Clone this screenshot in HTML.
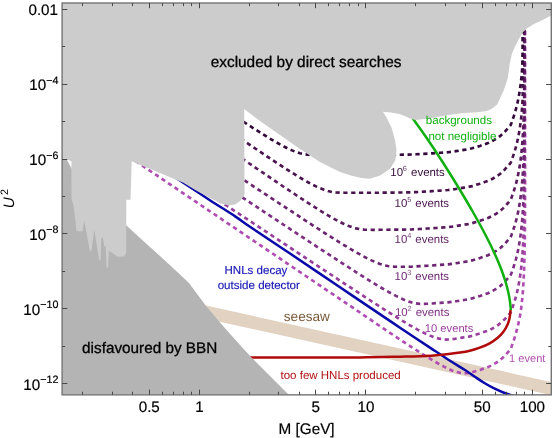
<!DOCTYPE html>
<html><head><meta charset="utf-8"><title>HNL sensitivity</title>
<style>html,body{margin:0;padding:0;background:#fff}svg{will-change:transform;-webkit-font-smoothing:antialiased}svg text{text-rendering:geometricPrecision}body{width:555px;height:438px;overflow:hidden}</style></head>
<body>
<svg width="555" height="438" viewBox="0 0 555 438" style="display:block;font-family:'Liberation Sans',sans-serif">
<rect width="555" height="438" fill="#fff"/>
<defs><clipPath id="cp"><rect x="62.1" y="3.0" width="489.19999999999993" height="391.85"/></clipPath></defs>
<g clip-path="url(#cp)">
<path d="M190.00,301.96 L560.00,383.91 L560.00,397.11 L190.00,315.16 Z" fill="#e2d2c2"/>
<path d="M525.14,-0.30 L525.12,158.07 L525.10,181.40 L525.07,195.05 L525.05,204.73 L525.02,212.24 L524.99,218.38 L524.96,223.57 L524.93,228.06 L524.90,232.03 L524.86,235.57 L524.82,238.78 L524.79,241.71 L524.75,244.40 L524.71,246.90 L524.67,249.22 L524.63,251.39 L524.59,253.43 L524.54,255.36 L524.50,257.18 L524.45,258.90 L523.99,272.55 L523.50,282.23 L523.00,289.74 L522.50,295.88 L522.00,301.07 L521.50,305.56 L521.00,309.53 L520.46,313.07 L519.91,316.28 L519.34,319.21 L518.78,321.90 L518.22,324.40 L517.66,326.72 L517.11,328.89 L516.57,330.93 L516.04,332.86 L515.52,334.68 L515.00,336.40 L514.50,338.04 L514.00,339.61 L513.50,341.11 L513.00,342.54 L512.50,343.91 L512.00,345.23 L511.50,346.90 L511.00,348.22 L510.50,349.21 L510.00,349.87 L508.00,352.10 L504.00,356.60 L500.00,360.20 L496.00,362.90 L492.00,365.23 L488.00,367.10 L484.00,368.50 L480.00,369.90 L476.00,371.10 L472.00,372.29 L468.00,373.08 L464.00,373.22 L460.00,372.79 L456.00,371.82 L452.00,370.42 L448.00,368.65 L444.00,366.64 L440.00,364.50 L436.00,362.24 L432.00,359.89 L428.00,357.48 L424.00,355.01 L420.00,352.50 L416.00,349.96 L412.00,347.39 L408.00,344.79 L404.00,342.18 L400.00,339.55 L396.00,336.91 L392.02,334.26 L388.06,331.60 L384.11,328.93 L380.17,326.26 L376.24,323.59 L372.30,320.91 L368.37,318.23 L364.42,315.54 L360.46,312.86 L356.49,310.17 L352.50,307.47 L348.50,304.78 L344.50,302.09 L340.50,299.39 L336.50,296.70 L332.50,294.00 L328.50,291.31 L324.50,288.61 L320.50,285.91 L316.50,283.21 L312.50,280.52 L308.50,277.82 L304.50,275.12 L300.50,272.42 L296.50,269.72 L292.50,267.02 L288.50,264.32 L284.50,261.62 L280.50,258.92 L276.50,256.22 L272.50,253.52 L268.50,250.82 L264.50,248.12 L260.50,245.42 L256.50,242.72 L252.50,240.02 L248.50,237.32 L244.50,234.62 L240.50,231.92 L236.50,229.22 L232.50,226.52 L228.50,223.82 L224.50,221.12 L220.50,218.42 L216.50,215.72 L212.50,213.02 L208.50,210.32 L204.50,207.62 L200.50,204.92 L196.50,202.22 L192.50,199.52 L188.50,196.82 L184.50,194.12 L180.50,191.42 L176.50,188.72 L172.50,186.02 L168.50,183.32 L164.50,180.62 L160.50,177.92 L156.50,175.22 L152.50,172.52 L148.50,169.82 L144.50,167.12 L140.50,164.42 L136.50,161.72 L132.50,159.02 L128.50,156.32 L124.50,153.62 L120.50,150.92 L116.50,148.22 L112.50,145.52 L108.50,142.82 L104.50,140.12 L100.50,137.42" fill="none" stroke="#b04db3" stroke-width="2.65" stroke-dasharray="4.25 3.6"/>
<path d="M524.61,-1.10 L524.59,121.57 L524.57,144.90 L524.55,158.55 L524.52,168.23 L524.50,175.74 L524.47,181.88 L524.44,187.07 L524.41,191.56 L524.38,195.53 L524.35,199.07 L524.31,202.28 L524.27,205.21 L524.24,207.90 L524.20,210.40 L524.16,212.72 L524.12,214.89 L524.08,216.93 L524.04,218.86 L523.99,220.68 L523.95,222.40 L523.48,236.05 L523.00,245.73 L522.50,253.24 L522.00,259.38 L521.50,264.57 L521.00,269.06 L520.50,273.03 L520.00,276.57 L519.50,279.78 L519.00,282.71 L518.50,285.40 L518.00,287.90 L517.50,290.22 L517.00,292.39 L516.50,294.43 L516.00,296.36 L515.50,298.18 L515.00,299.90 L514.50,301.54 L514.00,303.11 L513.50,304.61 L513.00,306.04 L512.50,307.41 L512.00,308.73 L511.50,310.40 L511.00,311.72 L510.50,312.71 L510.00,313.37 L506.00,317.90 L502.00,321.90 L498.00,325.05 L494.00,327.57 L490.00,329.90 L486.00,331.30 L482.00,332.70 L478.00,334.00 L474.00,335.20 L470.00,336.40 L466.00,337.04 L462.00,337.68 L458.00,338.32 L454.00,338.96 L450.00,339.54 L446.00,339.56 L442.00,339.20 L438.00,338.39 L434.00,337.18 L430.00,335.65 L426.00,333.87 L422.00,331.90 L418.00,329.81 L414.00,327.60 L410.00,325.31 L406.00,322.94 L402.00,320.53 L398.00,318.07 L394.00,315.58 L390.00,313.07 L386.00,310.53 L382.00,307.98 L378.00,305.41 L374.00,302.83 L370.00,300.24 L366.00,297.64 L362.00,295.03 L358.00,292.42 L354.00,289.80 L350.00,287.17 L346.00,284.55 L342.00,281.92 L338.00,279.28 L334.00,276.65 L330.00,274.01 L326.00,271.37 L322.00,268.73 L318.00,266.09 L314.00,263.45 L310.00,260.80 L306.00,258.16 L302.00,255.51 L298.00,252.87 L294.00,250.22 L290.00,247.58 L286.00,244.93 L282.00,242.29 L278.00,239.64 L274.00,236.99 L270.00,234.34 L266.00,231.70 L262.00,229.05 L258.00,226.40 L254.00,223.76 L250.00,221.11 L246.00,218.46 L242.00,215.81 L238.00,213.16 L234.00,210.52 L230.00,207.87 L226.00,205.22 L222.00,202.57 L218.00,199.93 L214.00,197.28 L210.00,194.63 L206.00,191.98 L202.00,189.33 L198.00,186.69 L194.00,184.04 L190.00,181.39" fill="none" stroke="#983e9c" stroke-width="2.65" stroke-dasharray="4.25 3.6"/>
<path d="M524.58,-1.90 L524.56,84.17 L524.54,107.50 L524.52,121.15 L524.50,130.83 L524.47,138.34 L524.45,144.48 L524.42,149.67 L524.39,154.16 L524.36,158.13 L524.33,161.67 L524.30,164.88 L524.26,167.81 L524.22,170.50 L524.19,173.00 L524.15,175.32 L524.11,177.49 L524.07,179.53 L524.03,181.46 L523.99,183.28 L523.94,185.00 L523.48,198.65 L522.99,208.33 L522.50,215.84 L522.00,221.98 L521.50,227.17 L521.00,231.66 L520.50,235.63 L520.00,239.17 L519.50,242.38 L519.00,245.31 L518.50,248.00 L518.00,250.50 L517.50,252.82 L517.00,254.99 L516.50,257.03 L516.00,258.96 L515.50,260.78 L515.00,262.50 L514.50,264.14 L514.00,265.71 L513.50,267.21 L513.00,268.64 L512.50,270.01 L512.00,271.33 L511.50,273.00 L511.00,274.32 L510.50,275.31 L510.00,275.97 L508.00,278.20 L504.00,282.70 L500.00,286.30 L496.00,289.00 L492.00,291.33 L488.00,293.20 L484.00,294.60 L480.00,296.00 L476.00,297.20 L472.00,298.40 L468.00,299.32 L464.00,299.96 L460.00,300.60 L456.00,301.24 L452.00,301.88 L448.00,302.34 L444.00,302.62 L440.00,302.90 L436.00,303.18 L432.00,303.46 L428.00,303.70 L424.00,303.86 L420.00,303.82 L416.00,303.41 L412.00,302.56 L408.00,301.29 L404.00,299.69 L400.00,297.89 L396.00,295.92 L392.00,293.82 L388.00,291.62 L384.00,289.34 L380.00,287.00 L376.00,284.60 L372.00,282.16 L368.00,279.69 L364.00,277.19 L360.00,274.66 L356.00,272.12 L352.00,269.55 L348.00,266.98 L344.00,264.39 L340.00,261.80 L336.00,259.19 L332.00,256.58 L328.00,253.97 L324.00,251.35 L320.00,248.72 L316.00,246.09 L312.00,243.46 L308.00,240.83 L304.00,238.19 L300.00,235.55 L296.00,232.91 L292.00,230.27 L288.00,227.63 L284.00,224.99 L280.00,222.35 L276.00,219.70 L272.00,217.06 L268.00,214.41 L264.00,211.77 L260.00,209.12 L256.00,206.47 L252.00,203.83 L248.00,201.18 L244.00,198.53 L240.00,195.89 L236.00,193.24 L232.00,190.59 L228.00,187.94 L224.00,185.30 L220.00,182.65 L216.00,180.00 L212.00,177.35 L208.00,174.70 L204.00,172.06 L200.00,169.41" fill="none" stroke="#7d2f83" stroke-width="2.65" stroke-dasharray="4.25 3.6"/>
<path d="M524.55,-1.10 L524.53,46.17 L524.51,69.50 L524.49,83.15 L524.47,92.83 L524.45,100.34 L524.42,106.48 L524.40,111.67 L524.37,116.16 L524.34,120.13 L524.31,123.67 L524.28,126.88 L524.25,129.81 L524.21,132.50 L524.17,135.00 L524.14,137.32 L524.10,139.49 L524.06,141.53 L524.02,143.46 L523.98,145.28 L523.94,147.00 L523.48,160.65 L522.99,170.33 L522.50,177.84 L522.00,183.98 L521.50,189.17 L521.00,193.66 L520.50,197.63 L520.00,201.17 L519.50,204.38 L519.00,207.31 L518.50,210.00 L518.00,212.50 L517.50,214.82 L517.00,216.99 L516.50,219.03 L516.00,220.96 L515.50,222.78 L515.00,224.50 L514.50,226.14 L514.00,227.71 L513.50,229.21 L513.00,230.64 L512.50,232.01 L512.00,233.33 L511.50,235.00 L511.00,236.32 L510.50,237.31 L510.00,237.97 L508.00,240.20 L504.00,244.70 L500.00,248.30 L496.00,251.00 L492.00,253.33 L488.00,255.20 L484.00,256.60 L480.00,258.00 L476.00,259.20 L472.00,260.40 L468.00,261.32 L464.00,261.96 L460.00,262.60 L456.00,263.24 L452.00,263.88 L448.00,264.34 L444.00,264.62 L440.00,264.90 L436.00,265.18 L432.00,265.46 L428.00,265.71 L424.00,265.93 L420.00,266.15 L416.00,266.37 L412.00,266.59 L408.00,266.72 L404.00,266.76 L400.00,266.79 L396.00,266.77 L392.00,266.58 L388.00,266.06 L384.00,265.17 L380.00,263.93 L376.00,262.38 L372.00,260.61 L368.00,258.68 L364.00,256.61 L360.00,254.44 L356.00,252.18 L352.00,249.86 L348.00,247.48 L344.00,245.05 L340.00,242.60 L336.00,240.11 L332.00,237.59 L328.00,235.06 L324.00,232.51 L320.00,229.94 L316.00,227.36 L312.00,224.78 L308.00,222.18 L304.00,219.58 L300.00,216.97 L296.00,214.35 L292.00,211.73 L288.00,209.11 L284.00,206.48 L280.00,203.85 L276.00,201.22 L272.00,198.59 L268.00,195.95 L264.00,193.32 L260.00,190.68 L256.00,188.04 L252.00,185.40 L248.00,182.76 L244.00,180.12 L240.00,177.48 L236.00,174.84 L232.00,172.20 L228.00,169.55 L224.00,166.91 L220.00,164.27 L216.00,161.62 L212.00,158.98 L208.00,156.34 L204.00,153.70 L200.00,151.05" fill="none" stroke="#6b2570" stroke-width="2.65" stroke-dasharray="4.25 3.6"/>
<path d="M524.55,-0.30 L524.53,8.97 L524.51,32.30 L524.49,45.95 L524.47,55.63 L524.45,63.14 L524.42,69.28 L524.40,74.47 L524.37,78.96 L524.34,82.93 L524.31,86.47 L524.28,89.68 L524.25,92.61 L524.21,95.30 L524.17,97.80 L524.14,100.12 L524.10,102.29 L524.06,104.33 L524.02,106.26 L523.98,108.08 L523.94,109.80 L523.48,123.45 L522.99,133.13 L522.50,140.64 L522.00,146.78 L521.50,151.97 L521.00,156.46 L520.50,160.43 L520.00,163.97 L519.50,167.18 L519.00,170.11 L518.50,172.80 L518.00,175.30 L517.50,177.62 L517.00,179.79 L516.50,181.83 L516.00,183.76 L515.50,185.58 L515.00,187.30 L514.50,188.94 L514.00,190.51 L513.50,192.01 L513.00,193.44 L512.50,194.81 L512.00,196.13 L511.50,197.80 L511.00,199.12 L510.50,200.11 L510.00,200.77 L508.00,203.00 L504.00,207.50 L500.00,211.10 L496.00,213.80 L492.00,216.13 L488.00,218.00 L484.00,219.40 L480.00,220.80 L476.00,222.00 L472.00,223.20 L468.00,224.12 L464.00,224.76 L460.00,225.40 L456.00,226.04 L452.00,226.68 L448.00,227.14 L444.00,227.42 L440.00,227.70 L436.00,227.98 L432.00,228.26 L428.00,228.51 L424.00,228.73 L420.00,228.95 L416.00,229.17 L412.00,229.39 L408.00,229.52 L404.00,229.56 L400.00,229.60 L396.00,229.64 L392.00,229.68 L388.00,229.72 L384.00,229.76 L380.00,229.80 L376.00,229.80 L372.00,229.80 L368.00,229.77 L364.00,229.63 L360.00,229.21 L356.00,228.40 L352.00,227.22 L348.00,225.71 L344.00,223.95 L340.00,221.99 L336.00,219.88 L332.00,217.65 L328.00,215.33 L324.00,212.93 L320.00,210.47 L316.00,207.97 L312.00,205.43 L308.00,202.85 L304.00,200.25 L300.00,197.63 L296.00,194.98 L292.00,192.33 L288.00,189.66 L284.00,186.98 L280.00,184.29 L276.00,181.59 L272.00,178.89 L268.00,176.18 L264.00,173.47 L260.00,170.75 L256.00,168.03 L252.00,165.31 L248.00,162.59 L244.00,159.86 L240.00,157.13 L236.00,154.40 L232.00,151.67 L228.00,148.94 L224.00,146.21 L220.00,143.48 L216.00,140.75 L212.00,138.01 L208.00,135.28 L204.00,132.55 L200.00,129.81" fill="none" stroke="#5a1c5e" stroke-width="2.65" stroke-dasharray="4.25 3.6"/>
<path d="M522.95,-2.30 L522.95,8.85 L522.95,18.53 L522.95,26.04 L522.94,32.18 L522.94,37.37 L522.94,41.86 L522.94,45.83 L522.94,49.37 L522.94,52.58 L522.94,55.51 L522.94,58.20 L522.94,60.70 L522.93,63.02 L522.93,65.19 L522.93,67.23 L522.93,69.16 L522.93,70.98 L522.92,72.70 L522.86,86.35 L522.70,96.03 L522.39,103.54 L521.96,109.68 L521.49,114.87 L521.00,119.36 L520.50,123.33 L520.00,126.87 L519.50,130.08 L519.00,133.01 L518.50,135.70 L518.00,138.20 L517.50,140.52 L517.00,142.69 L516.50,144.73 L516.00,146.66 L515.50,148.48 L515.00,150.20 L514.50,151.84 L514.00,153.41 L513.50,154.91 L513.00,156.34 L512.50,157.71 L512.00,159.03 L511.50,160.70 L511.00,162.02 L510.50,163.01 L510.00,163.67 L508.00,165.90 L504.00,170.40 L500.00,174.00 L496.00,176.70 L492.00,179.03 L488.00,180.90 L484.00,182.30 L480.00,183.70 L476.00,184.90 L472.00,186.10 L468.00,187.02 L464.00,187.66 L460.00,188.30 L456.00,188.94 L452.00,189.58 L448.00,190.04 L444.00,190.32 L440.00,190.60 L436.00,190.88 L432.00,191.16 L428.00,191.41 L424.00,191.63 L420.00,191.85 L416.00,192.07 L412.00,192.29 L408.00,192.42 L404.00,192.46 L400.00,192.50 L396.00,192.54 L392.00,192.58 L388.00,192.62 L384.00,192.66 L380.00,192.70 L376.00,192.70 L372.00,192.70 L368.00,192.70 L364.00,192.70 L360.00,192.70 L356.00,192.70 L352.00,192.70 L348.00,192.70 L344.00,192.70 L340.00,192.65 L336.00,192.46 L332.00,191.96 L328.00,191.07 L324.00,189.79 L320.00,188.21 L316.00,186.38 L312.00,184.37 L308.00,182.22 L304.00,179.95 L300.00,177.59 L296.00,175.16 L292.00,172.68 L288.00,170.15 L284.00,167.58 L280.00,164.98 L276.00,162.36 L272.00,159.71 L268.00,157.05 L264.00,154.37 L260.00,151.68 L256.00,148.99 L252.00,146.28 L248.00,143.56 L244.00,140.84 L240.00,138.12 L236.00,135.39 L232.00,132.65 L228.00,129.92 L224.00,127.18 L220.00,124.44 L216.00,121.70 L212.00,118.95 L208.00,116.21 L204.00,113.46 L200.00,110.71" fill="none" stroke="#48124c" stroke-width="2.65" stroke-dasharray="4.25 3.6"/>
<path d="M522.75,-2.30 L522.75,-0.43 L522.75,4.06 L522.75,8.03 L522.74,11.57 L522.74,14.78 L522.74,17.71 L522.74,20.40 L522.74,22.90 L522.74,25.22 L522.74,27.39 L522.74,29.43 L522.74,31.36 L522.73,33.18 L522.73,34.90 L522.69,48.55 L522.58,58.23 L522.33,65.74 L521.94,71.88 L521.48,77.07 L520.99,81.56 L520.50,85.53 L520.00,89.07 L519.50,92.28 L519.00,95.21 L518.50,97.90 L518.00,100.40 L517.50,102.72 L517.00,104.89 L516.50,106.93 L516.00,108.86 L515.50,110.68 L515.00,112.40 L514.50,114.04 L514.00,115.61 L513.50,117.11 L513.00,118.54 L512.50,119.91 L512.00,121.23 L511.50,122.90 L511.00,124.22 L510.50,125.21 L510.00,125.87 L508.00,128.10 L504.00,132.60 L500.00,136.20 L496.00,138.90 L492.00,141.23 L488.00,143.10 L484.00,144.50 L480.00,145.90 L476.00,147.10 L472.00,148.30 L468.00,149.22 L464.00,149.86 L460.00,150.50 L456.00,151.14 L452.00,151.78 L448.00,152.24 L444.00,152.52 L440.00,152.80 L436.00,153.08 L432.00,153.36 L428.00,153.61 L424.00,153.83 L420.00,154.05 L416.00,154.27 L412.00,154.49 L408.00,154.62 L404.00,154.66 L400.00,154.70 L396.00,154.74 L392.00,154.78 L388.00,154.82 L384.00,154.86 L380.00,154.90 L376.00,154.90 L372.00,154.90 L368.00,154.90 L364.00,154.90 L360.00,154.90 L356.00,154.90 L352.00,154.90 L348.00,154.90 L344.00,154.90 L340.00,154.90 L336.00,154.90 L332.00,154.90 L328.00,154.90 L324.00,154.90 L320.00,154.90 L316.00,154.90 L312.00,154.85 L308.00,154.65 L304.00,154.14 L300.00,153.23 L296.00,151.96 L292.00,150.38 L288.00,148.56 L284.00,146.56 L280.00,144.41 L276.00,142.16 L272.00,139.82 L268.00,137.40 L264.00,134.93 L260.00,132.42 L256.00,129.87 L252.00,127.28 L248.00,124.68 L244.00,122.05 L240.00,119.40 L236.00,116.74 L232.00,114.07 L228.00,111.39 L224.00,108.69 L220.00,106.00 L216.00,103.29 L212.00,100.58 L208.00,97.87 L204.00,95.15 L200.00,92.43" fill="none" stroke="#33083a" stroke-width="2.65" stroke-dasharray="4.25 3.6"/>
<path d="M131.70,148.90 C140.30,154.53 170.27,174.15 183.30,182.70 C196.33,191.25 201.20,194.55 209.90,200.20 C218.60,205.85 228.82,212.17 235.50,216.60 C242.18,221.03 240.92,220.65 250.00,226.80 C259.08,232.95 275.00,243.42 290.00,253.50 C305.00,263.58 324.17,276.62 340.00,287.30 C355.83,297.98 375.00,310.87 385.00,317.60 C395.00,324.33 392.50,322.70 400.00,327.70 C407.50,332.70 421.67,342.08 430.00,347.60 C438.33,353.12 444.17,357.07 450.00,360.80 C455.83,364.53 460.85,367.33 465.00,370.00 C469.15,372.67 471.60,374.58 474.90,376.80 C478.20,379.02 481.50,381.32 484.80,383.30 C488.10,385.28 491.40,387.08 494.70,388.70 C498.00,390.32 501.95,391.97 504.60,393.00 C507.25,394.03 508.03,394.20 510.60,394.90 C513.17,395.60 518.43,396.82 520.00,397.20" fill="none" stroke="#0a0aaa" stroke-width="2.5"/>
<path d="M240.00,357.50 C250.00,357.50 280.00,357.52 300.00,357.50 C320.00,357.48 343.33,357.53 360.00,357.40 C376.67,357.27 390.00,356.90 400.00,356.70 C410.00,356.50 413.33,356.48 420.00,356.20 C426.67,355.92 433.33,355.62 440.00,355.00 C446.67,354.38 455.02,353.22 460.00,352.50 C464.98,351.78 466.60,351.50 469.90,350.70 C473.20,349.90 476.50,348.93 479.80,347.70 C483.10,346.47 486.72,344.95 489.70,343.30 C492.68,341.65 495.38,339.78 497.70,337.80 C500.02,335.82 501.95,333.63 503.60,331.40 C505.25,329.17 506.60,326.63 507.60,324.40 C508.60,322.17 509.10,320.40 509.60,318.00 C510.10,315.60 510.43,311.33 510.60,310.00" fill="none" stroke="#b00a0a" stroke-width="2.5"/>
<path d="M398.16,100.00 C398.57,100.50 399.81,102.00 400.63,103.00 C401.44,104.00 402.25,105.00 403.05,106.00 C403.86,107.00 404.65,108.00 405.44,109.00 C406.23,110.00 407.01,111.00 407.78,112.00 C408.55,113.00 409.32,114.00 410.08,115.00 C410.84,116.00 411.60,117.00 412.35,118.00 C413.10,119.00 413.84,120.00 414.58,121.00 C415.32,122.00 416.05,123.00 416.78,124.00 C417.51,125.00 418.23,126.00 418.95,127.00 C419.67,128.00 420.39,129.00 421.09,130.00 C421.80,131.00 422.51,132.00 423.21,133.00 C423.91,134.00 424.61,135.00 425.30,136.00 C425.99,137.00 426.68,138.00 427.37,139.00 C428.05,140.00 428.73,141.00 429.41,142.00 C430.09,143.00 430.76,144.00 431.43,145.00 C432.11,146.00 432.77,147.00 433.44,148.00 C434.10,149.00 434.77,150.00 435.43,151.00 C436.09,152.00 436.74,153.00 437.40,154.00 C438.05,155.00 438.70,156.00 439.35,157.00 C440.00,158.00 440.64,159.00 441.29,160.00 C441.93,161.00 442.57,162.00 443.21,163.00 C443.85,164.00 444.49,165.00 445.12,166.00 C445.76,167.00 446.39,168.00 447.02,169.00 C447.65,170.00 448.28,171.00 448.90,172.00 C449.53,173.00 450.16,174.00 450.78,175.00 C451.40,176.00 452.02,177.00 452.64,178.00 C453.26,179.00 453.87,180.00 454.49,181.00 C455.10,182.00 455.72,183.00 456.33,184.00 C456.94,185.00 457.55,186.00 458.16,187.00 C458.76,188.00 459.37,189.00 459.97,190.00 C460.57,191.00 461.18,192.00 461.78,193.00 C462.38,194.00 462.97,195.00 463.57,196.00 C464.16,197.00 464.76,198.00 465.35,199.00 C465.94,200.00 466.53,201.00 467.12,202.00 C467.70,203.00 468.29,204.00 468.87,205.00 C469.46,206.00 470.04,207.00 470.61,208.00 C471.19,209.00 471.77,210.00 472.34,211.00 C472.91,212.00 473.48,213.00 474.05,214.00 C474.62,215.00 475.19,216.00 475.75,217.00 C476.31,218.00 476.87,219.00 477.43,220.00 C477.98,221.00 478.54,222.00 479.09,223.00 C479.64,224.00 480.18,225.00 480.73,226.00 C481.27,227.00 481.81,228.00 482.35,229.00 C482.88,230.00 483.41,231.00 483.94,232.00 C484.47,233.00 485.00,234.00 485.52,235.00 C486.04,236.00 486.55,237.00 487.07,238.00 C487.58,239.00 488.08,240.00 488.59,241.00 C489.09,242.00 489.59,243.00 490.08,244.00 C490.57,245.00 491.06,246.00 491.54,247.00 C492.02,248.00 492.50,249.00 492.97,250.00 C493.44,251.00 493.91,252.00 494.36,253.00 C494.82,254.00 495.28,255.00 495.72,256.00 C496.17,257.00 496.61,258.00 497.04,259.00 C497.47,260.00 497.90,261.00 498.32,262.00 C498.74,263.00 499.15,264.00 499.55,265.00 C499.95,266.00 500.35,267.00 500.74,268.00 C501.13,269.00 501.50,270.00 501.88,271.00 C502.25,272.00 502.61,273.00 502.96,274.00 C503.31,275.00 503.66,276.00 503.99,277.00 C504.33,278.00 504.65,279.00 504.96,280.00 C505.28,281.00 505.58,282.00 505.88,283.00 C506.17,284.00 506.45,285.00 506.73,286.00 C507.00,287.00 507.26,288.00 507.51,289.00 C507.76,290.00 507.99,291.00 508.22,292.00 C508.44,293.00 508.66,294.00 508.86,295.00 C509.06,296.00 509.24,297.00 509.42,298.00 C509.59,299.00 509.75,300.00 509.89,301.00 C510.04,302.00 510.17,303.00 510.29,304.00 C510.41,305.00 510.51,306.00 510.60,307.00 C510.68,308.00 510.77,309.50 510.81,310.00" fill="none" stroke="#10b010" stroke-width="2.5"/>
<path d="M62.10,159.20 L66.60,159.20 L71.70,168.70 L126.20,225.20 L140.00,238.00 L160.00,256.00 L180.00,274.50 L189.00,283.00 L206.00,306.00 L223.00,326.00 L240.00,345.00 L251.30,357.30 L288.50,394.60 L62.10,394.60 Z" fill="#b4b4b4"/>
<path d="M62.10,3.00 L551.30,3.00 L551.30,15.40 L542.60,20.00 L533.40,24.30 L527.20,28.20 L523.10,32.00 L519.00,38.80 L514.90,46.80 L511.90,53.70 L509.90,63.00 L507.70,78.50 L503.60,90.80 L499.60,99.10 L497.20,104.40 L492.10,108.60 L487.00,110.90 L477.70,112.30 L463.20,113.00 L448.80,115.10 L434.40,117.60 L427.20,118.70 L420.00,119.60 L415.80,119.90 L412.00,119.20 L407.00,117.00 L399.40,113.90 L390.60,112.40 L383.00,111.80 L386.60,117.70 L391.60,127.80 L395.00,140.00 L396.50,150.00 L395.40,160.00 L390.30,168.50 L380.20,175.50 L370.00,178.80 L361.10,178.00 L351.00,175.60 L340.00,172.00 L320.00,162.00 L300.00,149.00 L280.00,135.00 L260.00,121.00 L244.20,109.00 L244.50,185.00 L244.60,193.40 L243.60,196.20 L240.40,200.80 L235.00,204.40 L228.50,205.50 L222.00,203.70 L210.50,198.20 L195.70,190.30 L183.30,182.70 L131.70,161.30 L130.50,199.80 L126.30,199.80 L126.20,251.70 L125.60,254.50 L123.50,256.50 L117.30,256.50 L113.20,253.80 L110.50,251.70 L108.80,251.10 L108.20,267.90 L106.60,267.50 L105.70,247.00 L104.30,246.30 L102.90,238.00 L101.30,238.00 L100.60,260.60 L99.20,260.20 L94.30,229.80 L91.30,251.70 L89.90,251.10 L84.20,220.90 L82.40,231.60 L76.50,230.90 L73.70,205.90 L71.50,198.70 L71.40,161.30 L66.60,159.20 L62.10,159.20 Z" fill="#cccccc"/>
</g>
<rect x="62.1" y="3.0" width="489.19999999999993" height="391.85" fill="none" stroke="#747474" stroke-width="1.4"/>
<path d="M82.50,394.85 v-3.1 M82.50,3.0 v3.1 M112.50,394.85 v-3.1 M112.50,3.0 v3.1 M132.50,394.85 v-3.1 M132.50,3.0 v3.1 M149.50,394.85 v-5.2 M149.50,3.0 v5.2 M162.50,394.85 v-3.1 M162.50,3.0 v3.1 M173.50,394.85 v-3.1 M173.50,3.0 v3.1 M183.50,394.85 v-3.1 M183.50,3.0 v3.1 M191.50,394.85 v-3.1 M191.50,3.0 v3.1 M199.50,394.85 v-5.2 M199.50,3.0 v5.2 M249.50,394.85 v-3.1 M249.50,3.0 v3.1 M278.50,394.85 v-3.1 M278.50,3.0 v3.1 M299.50,394.85 v-3.1 M299.50,3.0 v3.1 M315.50,394.85 v-5.2 M315.50,3.0 v5.2 M328.50,394.85 v-3.1 M328.50,3.0 v3.1 M339.50,394.85 v-3.1 M339.50,3.0 v3.1 M349.50,394.85 v-3.1 M349.50,3.0 v3.1 M358.50,394.85 v-3.1 M358.50,3.0 v3.1 M365.50,394.85 v-5.2 M365.50,3.0 v5.2 M415.50,394.85 v-3.1 M415.50,3.0 v3.1 M445.50,394.85 v-3.1 M445.50,3.0 v3.1 M465.50,394.85 v-3.1 M465.50,3.0 v3.1 M482.50,394.85 v-5.2 M482.50,3.0 v5.2 M495.50,394.85 v-3.1 M495.50,3.0 v3.1 M506.50,394.85 v-3.1 M506.50,3.0 v3.1 M516.50,394.85 v-3.1 M516.50,3.0 v3.1 M524.50,394.85 v-3.1 M524.50,3.0 v3.1 M532.50,394.85 v-5.2 M532.50,3.0 v5.2 M62.1,383.50 h5.2 M551.3,383.50 h-5.2 M62.1,346.50 h3.0 M551.3,346.50 h-3.0 M62.1,308.50 h5.2 M551.3,308.50 h-5.2 M62.1,271.50 h3.0 M551.3,271.50 h-3.0 M62.1,233.50 h5.2 M551.3,233.50 h-5.2 M62.1,196.50 h3.0 M551.3,196.50 h-3.0 M62.1,159.50 h5.2 M551.3,159.50 h-5.2 M62.1,121.50 h3.0 M551.3,121.50 h-3.0 M62.1,84.50 h5.2 M551.3,84.50 h-5.2 M62.1,46.50 h3.0 M551.3,46.50 h-3.0 M62.1,9.50 h5.2 M551.3,9.50 h-5.2" stroke="#484848" stroke-width="1" fill="none"/>
<text x="149.28" y="411.8" font-size="15.2" text-anchor="middle" fill="#000" stroke="#000" stroke-width="0.2">0.5</text>
<text x="199.40" y="411.8" font-size="15.2" text-anchor="middle" fill="#000" stroke="#000" stroke-width="0.2">1</text>
<text x="315.78" y="411.8" font-size="15.2" text-anchor="middle" fill="#000" stroke="#000" stroke-width="0.2">5</text>
<text x="365.90" y="411.8" font-size="15.2" text-anchor="middle" fill="#000" stroke="#000" stroke-width="0.2">10</text>
<text x="482.28" y="411.8" font-size="15.2" text-anchor="middle" fill="#000" stroke="#000" stroke-width="0.2">50</text>
<text x="532.40" y="411.8" font-size="15.2" text-anchor="middle" fill="#000" stroke="#000" stroke-width="0.2">100</text>
<text x="58" y="15.40" font-size="15.2" text-anchor="end" fill="#000" stroke="#000" stroke-width="0.2">0.01</text>
<text x="58.4" y="90.40" font-size="15.2" text-anchor="end" fill="#000" stroke="#000" stroke-width="0.2">10<tspan font-size="10.7" dy="-6.6">−4</tspan></text>
<text x="58.4" y="165.20" font-size="15.2" text-anchor="end" fill="#000" stroke="#000" stroke-width="0.2">10<tspan font-size="10.7" dy="-6.6">−6</tspan></text>
<text x="58.4" y="240.00" font-size="15.2" text-anchor="end" fill="#000" stroke="#000" stroke-width="0.2">10<tspan font-size="10.7" dy="-6.6">−8</tspan></text>
<text x="58.4" y="314.80" font-size="15.2" text-anchor="end" fill="#000" stroke="#000" stroke-width="0.2">10<tspan font-size="10.7" dy="-6.6">−10</tspan></text>
<text x="58.4" y="389.60" font-size="15.2" text-anchor="end" fill="#000" stroke="#000" stroke-width="0.2">10<tspan font-size="10.7" dy="-6.6">−12</tspan></text>
<text x="278.5" y="433.7" font-size="15.3" fill="#000" stroke="#000" stroke-width="0.2">M [GeV]</text>
<text transform="translate(14.4,208.3) rotate(-90)" font-size="15.2" fill="#000"><tspan font-style="italic">U</tspan><tspan font-size="10.7" dy="-6.5" dx="2.3">2</tspan></text>
<text x="210.7" y="66.7" font-size="15.4" fill="#000" stroke="#000" stroke-width="0.3">excluded by direct searches</text>
<text x="82.1" y="353.2" font-size="15.3" fill="#000" stroke="#000" stroke-width="0.3">disfavoured by BBN</text>
<text x="425.8" y="124.3" font-size="11.55" fill="#10b010">backgrounds</text>
<text x="428.4" y="140.3" font-size="11.55" fill="#10b010">not negligible</text>
<text x="224.5" y="273.5" font-size="11.55" fill="#1818b4" stroke="#1818b4" stroke-width="0.15">HNLs decay</text>
<text x="217.7" y="289.0" font-size="11.55" fill="#1818b4" stroke="#1818b4" stroke-width="0.15">outside detector</text>
<text x="280.5" y="378.7" font-size="11.5" fill="#b01010">too few HNLs produced</text>
<text x="283.8" y="320.7" font-size="13.6" fill="#7a5a3a">seesaw</text>
<text x="390.3" y="176.0" font-size="11.45" fill="#33083a">10<tspan font-size="7.4" dy="-5.0" dx="-0.2" fill-opacity="0.85">6</tspan><tspan dy="5.0" dx="4.1">events</tspan></text>
<text x="394.6" y="206.9" font-size="11.45" fill="#48124c">10<tspan font-size="7.4" dy="-5.0" dx="-0.2" fill-opacity="0.85">5</tspan><tspan dy="5.0" dx="4.1">events</tspan></text>
<text x="394.6" y="243.0" font-size="11.45" fill="#5a1c5e">10<tspan font-size="7.4" dy="-5.0" dx="-0.2" fill-opacity="0.85">4</tspan><tspan dy="5.0" dx="4.1">events</tspan></text>
<text x="394.6" y="279.8" font-size="11.45" fill="#6b2570">10<tspan font-size="7.4" dy="-5.0" dx="-0.2" fill-opacity="0.85">3</tspan><tspan dy="5.0" dx="4.1">events</tspan></text>
<text x="394.9" y="315.9" font-size="11.45" fill="#7d2f83">10<tspan font-size="7.4" dy="-5.0" dx="-0.2" fill-opacity="0.85">2</tspan><tspan dy="5.0" dx="4.1">events</tspan></text>
<text x="424.8" y="331.8" font-size="11.2" fill="#983e9c">10 events</text>
<text x="509" y="362.2" font-size="11.1" fill="#b04db3">1 event</text>
</svg>
</body></html>
